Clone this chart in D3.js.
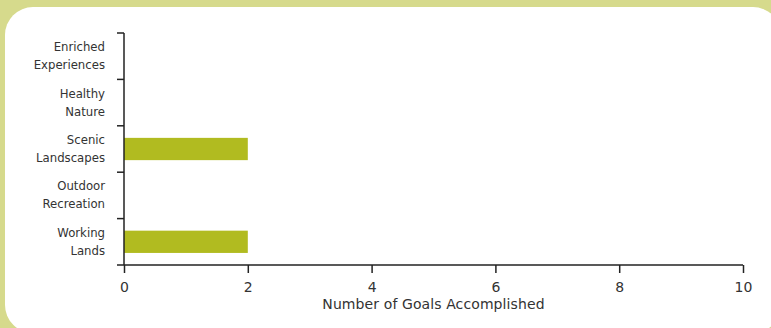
<!DOCTYPE html>
<html lang="en">
<head>
  <meta charset="UTF-8" />
  <title>Goals Accomplished</title>
  <script src="https://d3js.org/d3.v7.min.js"></script>
  <style>
    body { margin: 0; background: #d6da8c; font-family: "DejaVu Sans", sans-serif; }
    svg { display: block; }
    .axis path, .axis line { stroke: #222; stroke-width: 1.5px; }
    .axis text { font-size: 14px; fill: #333; font-family: "DejaVu Sans", sans-serif; }
    .lab { font-family: "DejaVu Sans Condensed", "DejaVu Sans", sans-serif; font-stretch: condensed; }
  </style>
</head>
<body>
<svg id="chart" width="771" height="328"></svg>
<script>
const categories = [
  ["Enriched", "Experiences"],
  ["Healthy", "Nature"],
  ["Scenic", "Landscapes"],
  ["Outdoor", "Recreation"],
  ["Working", "Lands"]
];
const goals = [0, 0, 2, 0, 2];
const xTicks = [0, 2, 4, 6, 8, 10];

const svg = d3.select("#chart");

// white panel with rounded corners
svg.append("rect")
  .attr("x", 5).attr("y", 7)
  .attr("width", 776).attr("height", 326)
  .attr("rx", 28).attr("ry", 28)
  .attr("fill", "#fff");

const margin = { top: 33, left: 124 };
const width = 619, height = 232;

const g = svg.append("g")
  .attr("transform", `translate(${margin.left},${margin.top})`);

const x = d3.scaleLinear().domain([0, 10]).range([0, width]);
const y = d3.scaleBand().domain(d3.range(categories.length)).range([0, height]).paddingInner(0.52).paddingOuter(0.26);
const yLines = d3.scaleLinear().domain([0, categories.length]).range([0, height]);

// bars
g.selectAll(".bar")
  .data(goals)
  .enter().append("rect")
  .attr("class", "bar")
  .attr("x", 0)
  .attr("y", (d, i) => y(i))
  .attr("height", y.bandwidth())
  .attr("width", d => x(d))
  .attr("fill", "#b1bb20");

// x axis
const xAxis = g.append("g")
  .attr("class", "axis")
  .attr("transform", `translate(0,${height})`)
  .call(d3.axisBottom(x).tickValues(xTicks).tickSizeOuter(0).tickSize(8));
xAxis.select(".domain").attr("d", `M-7,0H${width}`);
xAxis.selectAll("text").attr("y", 27).attr("dy", 0);

// y axis: tick marks at band boundaries
const yAxis = g.append("g").attr("class", "axis");
yAxis.append("line")
  .attr("x1", 0).attr("x2", 0)
  .attr("y1", yLines(0)).attr("y2", yLines(categories.length));
yAxis.selectAll(".ytick")
  .data(d3.range(categories.length))
  .enter().append("line")
  .attr("class", "ytick")
  .attr("x1", -7).attr("x2", 0)
  .attr("y1", d => yLines(d)).attr("y2", d => yLines(d));

// category labels
const labels = g.selectAll(".lab")
  .data(categories)
  .enter().append("text")
  .attr("class", "lab")
  .attr("text-anchor", "end")
  .attr("font-size", 13)
  .attr("fill", "#333")
  .attr("transform", (d, i) => `translate(-19,${(yLines(i) + yLines(i + 1)) / 2})`);
labels.selectAll("tspan")
  .data(d => d)
  .enter().append("tspan")
  .attr("x", 0)
  .attr("y", (d, i) => i === 0 ? -5 : 13)
  .text(d => d);

// x axis title
g.append("text")
  .attr("x", x(5))
  .attr("y", height + 44)
  .attr("text-anchor", "middle")
  .attr("font-size", 14)
  .attr("letter-spacing", 0.1)
  .attr("fill", "#333")
  .text("Number of Goals Accomplished");
</script>
</body>
</html>
